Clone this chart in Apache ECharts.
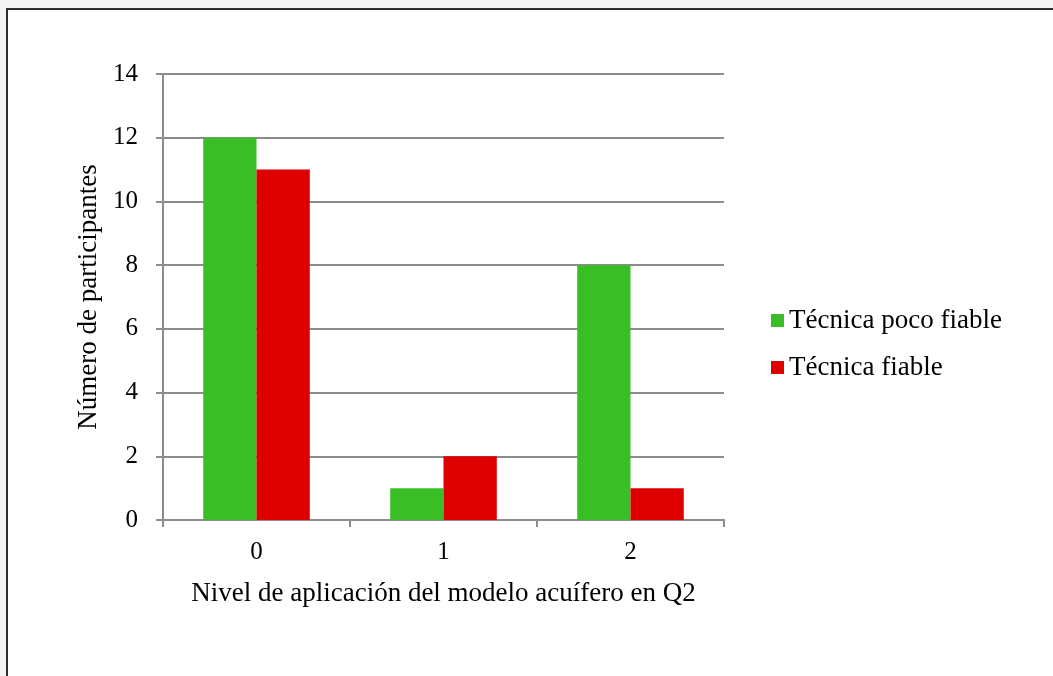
<!DOCTYPE html>
<html>
<head>
<meta charset="utf-8">
<script src="https://cdn.jsdelivr.net/npm/echarts@6/dist/echarts.min.js"></script>
<style>
  html, body { margin: 0; padding: 0; background: #f4f4f4; overflow: hidden; }
  #frame {
    position: absolute; left: 6px; top: 8px; width: 1060px; height: 680px;
    background: #ffffff; border-left: 2px solid #2e2e2e; border-top: 2px solid #2e2e2e;
  }
  #chart { position: absolute; left: 0; top: 0; width: 1053px; height: 676px; }
</style>
</head>
<body>
<div id="frame"></div>
<div id="chart"></div>
<script>
// Participants per application level of the aquifer model (Q2)
const categories = ['0', '1', '2'];
const seriesNames = ['Técnica poco fiable', 'Técnica fiable'];
const pocoFiable = [12, 1, 8];
const fiable = [11, 2, 1];
const colors = ['#39bf25', '#de0000'];

const serif = '"Liberation Serif", "DejaVu Serif", serif';
const axisGray = '#8c8c8c';

const chart = echarts.init(document.getElementById('chart'), null, { renderer: 'canvas' });
chart.setOption({
  backgroundColor: 'transparent',
  animation: false,
  textStyle: { fontFamily: serif, color: '#000' },
  grid: { left: 163, right: 329, top: 74, bottom: 156, containLabel: false },
  legend: {
    orient: 'vertical',
    left: 766,
    top: 302,
    itemWidth: 13,
    itemHeight: 13,
    itemGap: 20,
    icon: 'rect',
    textStyle: { fontFamily: serif, fontSize: 27, color: '#000', padding: [0, 0, 0, 0] },
    data: seriesNames
  },
  xAxis: {
    type: 'category',
    data: categories,
    name: 'Nivel de aplicación del modelo acuífero en Q2',
    nameLocation: 'middle',
    nameGap: 60,
    nameTextStyle: { fontFamily: serif, fontSize: 27, color: '#000' },
    axisLine: { lineStyle: { color: axisGray, width: 2 } },
    axisTick: { show: true, length: 7, alignWithLabel: false, lineStyle: { color: axisGray, width: 2 } },
    axisLabel: { fontFamily: serif, fontSize: 25, color: '#000', margin: 20 }
  },
  yAxis: {
    type: 'value',
    min: 0,
    max: 14,
    interval: 2,
    name: 'Número de participantes',
    nameLocation: 'middle',
    nameGap: 58,
    nameRotate: 90,
    nameTextStyle: { fontFamily: serif, fontSize: 27, color: '#000' },
    axisLine: { show: true, lineStyle: { color: axisGray, width: 2 } },
    axisTick: { show: true, length: 7, lineStyle: { color: axisGray, width: 2 } },
    axisLabel: { fontFamily: serif, fontSize: 25, color: '#000', margin: 25 },
    splitLine: { show: true, lineStyle: { color: axisGray, width: 2 } }
  },
  series: [
    {
      name: seriesNames[0], type: 'bar', data: pocoFiable,
      itemStyle: { color: colors[0] }, barGap: '0%', barCategoryGap: '43%'
    },
    {
      name: seriesNames[1], type: 'bar', data: fiable,
      itemStyle: { color: colors[1] }, barGap: '0%', barCategoryGap: '43%'
    }
  ]
});
</script>
</body>
</html>
